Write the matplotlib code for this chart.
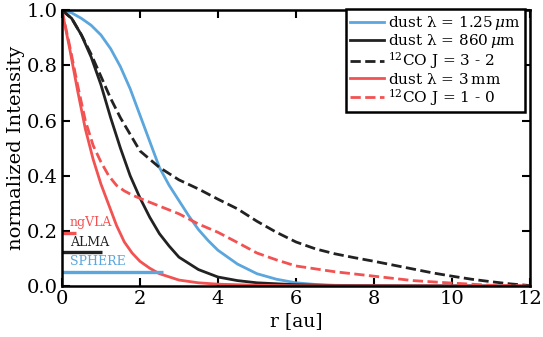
import numpy as np
import matplotlib
matplotlib.use("Agg")
import matplotlib.pyplot as plt

plt.rcParams['font.family'] = ['DejaVu Serif']
plt.rcParams['mathtext.fontset'] = 'dejavuserif'

# radial profiles
r_sphere = [0, 0.25, 0.5, 0.75, 1.0, 1.25, 1.5, 1.75, 2.0, 2.25, 2.5, 2.75, 3.0,
            3.25, 3.5, 3.75, 4.0, 4.5, 5.0, 5.5, 6.0, 6.5, 7.0, 8.0, 12.0]
i_sphere = [1.0, 0.99, 0.97, 0.945, 0.91, 0.86, 0.795, 0.715, 0.62, 0.525, 0.43, 0.365, 0.31,
            0.255, 0.205, 0.165, 0.13, 0.08, 0.045, 0.025, 0.012, 0.006, 0.003, 0.001, 0.0]

r_alma = [0, 0.25, 0.5, 0.75, 1.0, 1.25, 1.5, 1.75, 2.0, 2.25, 2.5, 2.75, 3.0,
          3.5, 4.0, 4.5, 5.0, 6.0, 7.0, 12.0]
i_alma = [1.0, 0.97, 0.91, 0.83, 0.73, 0.61, 0.50, 0.40, 0.32, 0.25, 0.19, 0.145, 0.105,
          0.06, 0.033, 0.02, 0.012, 0.005, 0.002, 0.0]

r_co32 = [0, 0.25, 0.5, 0.75, 1.0, 1.25, 1.5, 1.75, 2.0, 2.5, 3.0, 3.5, 4.0, 4.5, 5.0,
          5.5, 6.0, 6.5, 7.0, 7.5, 8.0, 8.5, 9.0, 9.5, 10.0, 10.5, 11.0, 11.5, 12.0]
i_co32 = [1.0, 0.97, 0.91, 0.84, 0.76, 0.68, 0.61, 0.55, 0.49, 0.43, 0.385, 0.352, 0.315, 0.28, 0.235,
          0.195, 0.16, 0.135, 0.117, 0.103, 0.09, 0.076, 0.062, 0.048, 0.036, 0.025, 0.016, 0.008, 0.002]

r_3mm = [0, 0.2, 0.4, 0.6, 0.8, 1.0, 1.2, 1.4, 1.6, 1.8, 2.0, 2.25, 2.5, 3.0, 3.5,
         4.0, 5.0, 6.0, 12.0]
i_3mm = [1.0, 0.86, 0.71, 0.57, 0.46, 0.37, 0.295, 0.22, 0.16, 0.12, 0.09, 0.065, 0.045, 0.022, 0.012,
         0.007, 0.003, 0.001, 0.0]

r_co10 = [0, 0.2, 0.4, 0.6, 0.8, 1.0, 1.2, 1.4, 1.6, 1.8, 2.0, 2.5, 3.0, 3.5, 4.0, 4.5,
          5.0, 5.5, 6.0, 7.0, 8.0, 9.0, 10.0, 11.0, 12.0]
i_co10 = [1.0, 0.87, 0.73, 0.60, 0.51, 0.45, 0.40, 0.365, 0.345, 0.33, 0.318, 0.29, 0.262, 0.225, 0.195, 0.158,
          0.12, 0.095, 0.073, 0.052, 0.036, 0.02, 0.011, 0.003, 0.0]

# beam sizes (half width) and label positions
beam_names = ['ngVLA', 'ALMA', 'SPHERE']
beam_width = [0.37, 1.03, 2.6]
beam_level = [0.194, 0.122, 0.052]

blue = '#5ba6dd'
black = '#222222'
red = '#f25252'
beam_colors = [red, black, blue]

fig = plt.figure(figsize=(5.43, 3.37), dpi=100)
ax = fig.add_axes([0.114, 0.151, 0.862, 0.819])

lw = 2.0
ax.plot(r_sphere, i_sphere, color=blue, lw=lw, label=r'dust λ = 1.25$\,\mu$m')
ax.plot(r_alma, i_alma, color=black, lw=lw, label=r'dust λ = 860$\,\mu$m')
ax.plot(r_co32, i_co32, color=black, lw=lw, ls='--', label=r'$^{12}$CO J = 3 - 2')
ax.plot(r_3mm, i_3mm, color=red, lw=lw, label=r'dust λ = 3$\,$mm')
ax.plot(r_co10, i_co10, color=red, lw=lw, ls='--', label=r'$^{12}$CO J = 1 - 0')

for name, w, lev, c in zip(beam_names, beam_width, beam_level, beam_colors):
    ax.plot([0, w], [lev, lev], color=c, lw=2.4, solid_capstyle='butt')
    ax.text(0.2, lev + 0.014, name, color=c, fontsize=9, va='bottom', ha='left')

ax.set_xlim(0, 12)
ax.set_ylim(0, 1.0)
ax.set_xticks([0, 2, 4, 6, 8, 10, 12])
ax.set_yticks([0.0, 0.2, 0.4, 0.6, 0.8, 1.0])
ax.set_yticklabels(['0.0', '0.2', '0.4', '0.6', '0.8', '1.0'])
ax.tick_params(direction='in', top=True, right=True, length=6, width=1.5, labelsize=14, pad=3)
for s in ax.spines.values():
    s.set_linewidth(1.8)
ax.set_xlabel('r [au]', fontsize=13.5, labelpad=3)
ax.set_ylabel('normalized Intensity', fontsize=14, labelpad=1)

leg = ax.legend(loc='upper right', bbox_to_anchor=(0.99, 1.003), fontsize=11, frameon=True,
                fancybox=False, handlelength=2.2, labelspacing=0.02, borderpad=0.3,
                handletextpad=0.3, borderaxespad=0.0)
leg.get_frame().set_edgecolor('black')
leg.get_frame().set_linewidth(1.8)
leg.get_frame().set_alpha(1)

fig.savefig('out.png', dpi=100)
